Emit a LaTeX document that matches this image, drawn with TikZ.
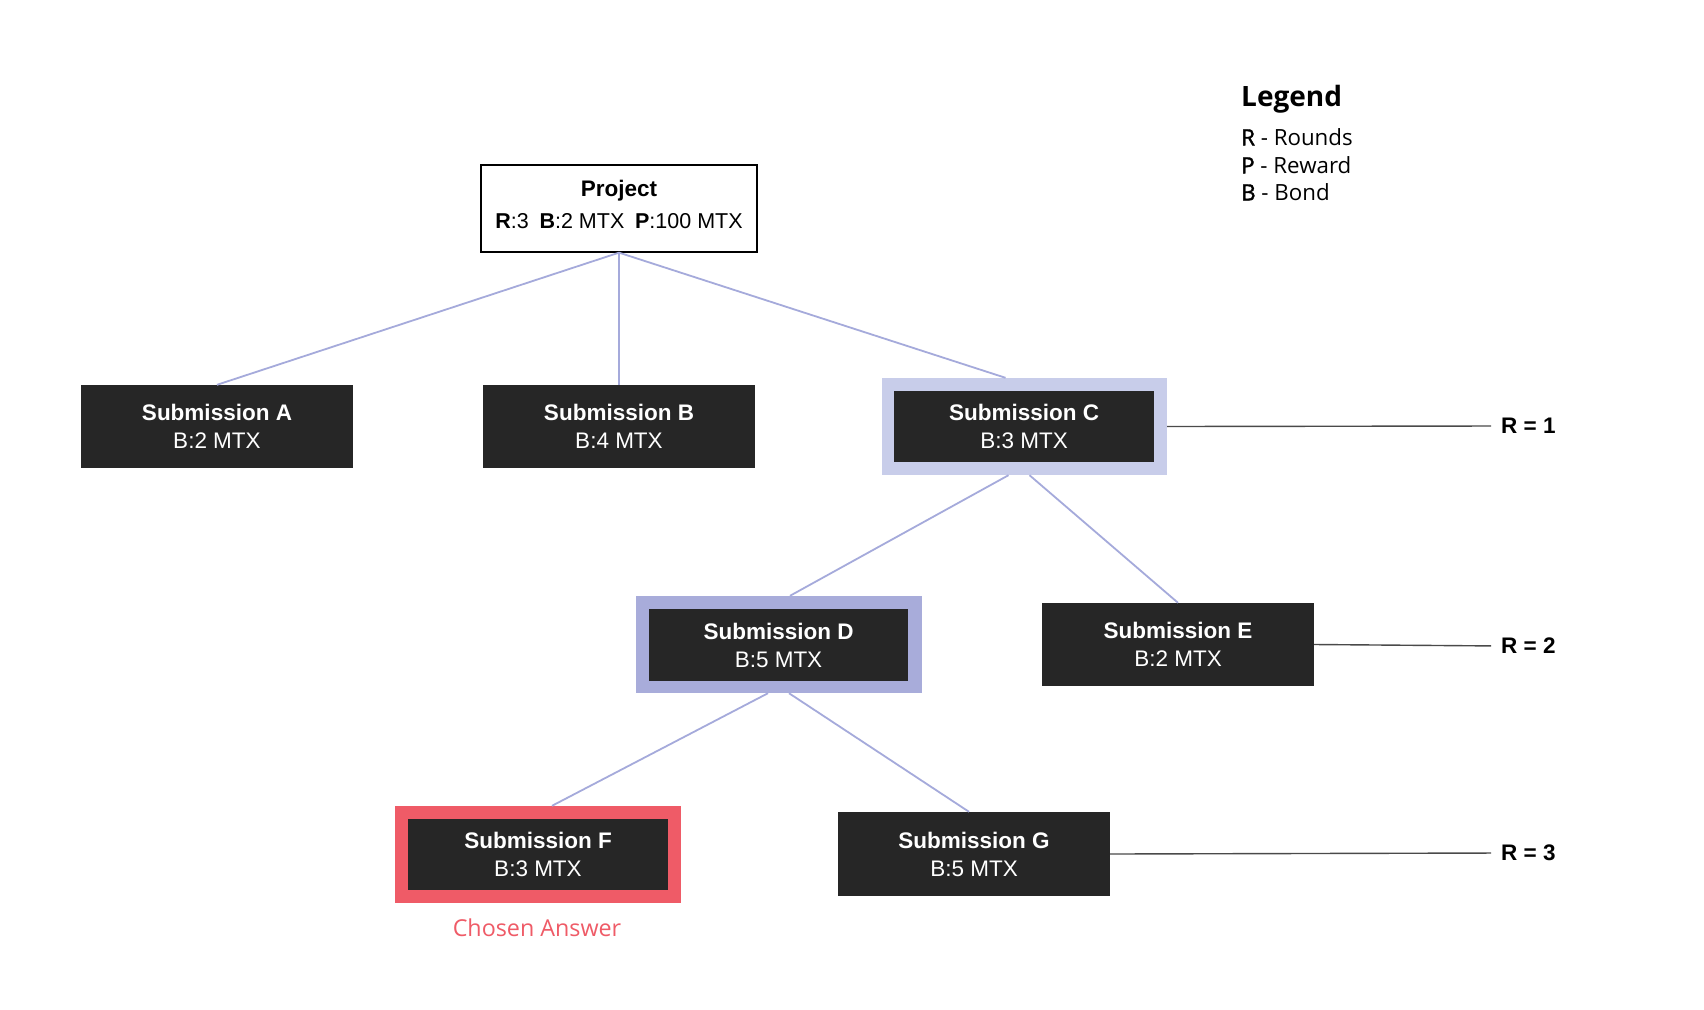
\documentclass[tikz,border=0pt]{standalone}
\usepackage{fontspec}
\setmainfont{Liberation Sans}
\newfontfamily\osans{Open Sans}
\newfontfamily\osanssb[FakeBold=1.6]{Open Sans}
\usetikzlibrary{calc}
\definecolor{boxfill}{HTML}{262626}
\definecolor{edgecol}{HTML}{A5AADB}
\definecolor{hlC}{HTML}{C8CDEA}
\definecolor{hlD}{HTML}{A8ACDA}
\definecolor{hlF}{HTML}{EF5B67}
\definecolor{rline}{HTML}{4A4A4A}
\tikzset{
  subbox/.style={fill=boxfill, text=white, inner sep=0pt, align=center,
    minimum width=272pt, minimum height=83pt,
    font=\fontsize{22.5}{28}\selectfont},
  hlbox/.style={inner sep=0pt, minimum width=286pt, minimum height=97pt},
  edge/.style={draw=edgecol, line width=1.8pt},
  rl/.style={draw=rline, line width=1.4pt, shorten >=10pt},
  rlabel/.style={anchor=west, inner sep=0pt, font=\bfseries\fontsize{22.5}{28}\selectfont},
  legtext/.style={anchor=west, inner sep=0pt, font=\osans\fontsize{22.3}{27}\selectfont},
}
\begin{document}
\begin{tikzpicture}[x=1pt,y=-1pt]
\useasboundingbox (0,0) rectangle (1704,1009);
\fill[white] (0,0) rectangle (1704,1009);

% Project
\node[draw=black, line width=1.3pt, minimum width=276pt, minimum height=87pt, inner sep=0pt] (P) at (619,208.5) {};
\node[inner sep=0pt, align=center, font=\fontsize{21.5}{32}\selectfont] (PT) at (619,204.5)
  {{\fontsize{22.5}{32}\selectfont\textbf{Project}}\\\textbf{R}:3\hspace{0.5em}\textbf{B}:2 MTX\hspace{0.5em}\textbf{P}:100 MTX};

% Round 1
\node[subbox] (A) at (217,426.5) {\textbf{Submission A}\\B:2 MTX};
\node[subbox] (B) at (619,426.5) {\textbf{Submission B}\\B:4 MTX};
\node[hlbox, fill=hlC, minimum width=285pt] (Cout) at (1024.5,426.5) {};
\node[subbox, minimum width=260pt, minimum height=71pt] (C) at (1024,426.5) {\textbf{Submission C}\\B:3 MTX};

% Round 2
\node[hlbox, fill=hlD] (Dout) at (779,644.5) {};
\node[subbox, minimum width=259pt, minimum height=72pt] (D) at (778.5,645) {\textbf{Submission D}\\B:5 MTX};
\node[subbox] (E) at (1178,644.5) {\textbf{Submission E}\\B:2 MTX};

% Round 3
\node[hlbox, fill=hlF] (Fout) at (538,854.5) {};
\node[subbox, minimum width=260pt, minimum height=71pt] (F) at (538,854.5) {\textbf{Submission F}\\B:3 MTX};
\node[subbox, minimum height=84pt] (G) at (974,854) {\textbf{Submission G}\\B:5 MTX};

\node[inner sep=0pt, text=hlF, font=\osans\fontsize{23.3}{28}\selectfont] (chosen) at (537,928) {Chosen Answer};

% Edges
\draw[edge] (P.south) -- (A.north);
\draw[edge] (P.south) -- (B.north);
\draw[edge] (P.south) -- ([xshift=-19pt]Cout.north);
\draw[edge] ([xshift=-16pt]Cout.south) -- ([xshift=11pt]Dout.north);
\draw[edge] ([xshift=5pt]Cout.south) -- (E.north);
\draw[edge] ([xshift=-11pt]Dout.south) -- ([xshift=14pt]Fout.north);
\draw[edge] ([xshift=10pt]Dout.south) -- ([xshift=-5pt]G.north);

% Round labels
\node[rlabel] (R1) at (1501,426) {R = 1};
\node[rlabel] (R2) at (1501,646) {R = 2};
\node[rlabel] (R3) at (1501,853) {R = 3};
\draw[rl] (Cout.east) -- (R1.west);
\draw[rl] (E.east) -- (R2.west);
\draw[rl] (G.east) -- (R3.west);

% Legend
\node[legtext, font=\osans\bfseries\fontsize{28}{32}\selectfont] (leg) at (1241,99) {Legend};
\node[legtext] (l1) at (1241,137) {{\osanssb R} - Rounds};
\node[legtext] (l2) at (1241,165) {{\osanssb P} - Reward};
\node[legtext] (l3) at (1241,192) {{\osanssb B} - Bond};
\end{tikzpicture}
\end{document}
